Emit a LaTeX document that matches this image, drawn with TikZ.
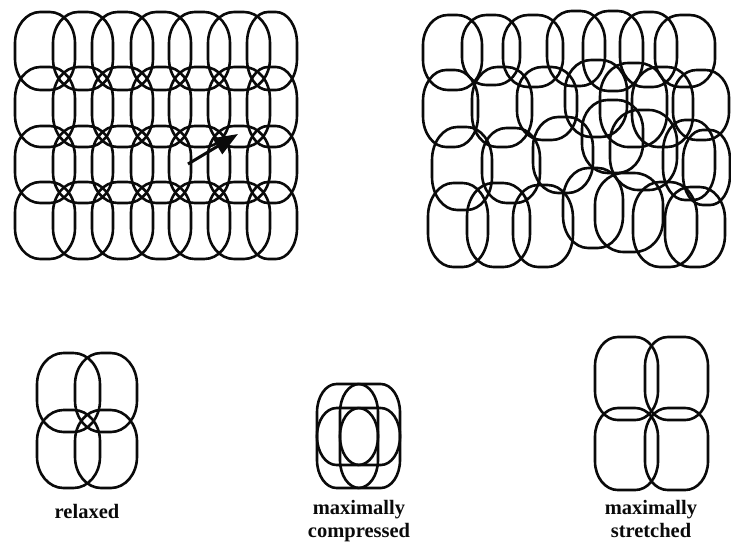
\documentclass[tikz,border=0pt]{standalone}
\usepackage{tikz}
\usepackage{fontspec}
\setmainfont{Liberation Serif}
\usetikzlibrary{calc,arrows.meta,positioning}
\definecolor{inkBlack}{RGB}{10,10,10}

% corner size as a fraction of the cell width / height
\def\cfx{0.42}
\def\cfy{0.40}
% one cell: left, top, width, height (pixel units, y downwards)
\newcommand{\cellat}[4]{%
  \pgfmathsetmacro{\crx}{\cfx*#3}%
  \pgfmathsetmacro{\cry}{\cfy*#4}%
  \draw[cellline] ({#1+\crx},{#2}) -- ({#1+#3-\crx},{#2})
    arc[start angle=-90,end angle=0,x radius=\crx,y radius=\cry]
    -- ({#1+#3},{#2+#4-\cry})
    arc[start angle=0,end angle=90,x radius=\crx,y radius=\cry]
    -- ({#1+\crx},{#2+#4})
    arc[start angle=90,end angle=180,x radius=\crx,y radius=\cry]
    -- ({#1},{#2+\cry})
    arc[start angle=180,end angle=270,x radius=\crx,y radius=\cry]
    -- cycle;}

\begin{document}
\begin{tikzpicture}[x=1pt,y=-1pt,
  cellline/.style={draw=inkBlack,line width=2.6pt,line join=round},
  lbl/.style={font=\bfseries\fontsize{20.5}{23}\selectfont,text=inkBlack,inner sep=0pt,anchor=base}]
\useasboundingbox (0,0) rectangle (731,544);

% regular lattice (top left)
\foreach \ty/\th in {12/78,67/80,126/77,182/77}
  \foreach \lx/\w in {15/60,53/60,92/61,131/60,169/61,208/62,247/50}
    {\cellat{\lx}{\ty}{\w}{\th}}
\coordinate (arrtail) at (188,164);
\coordinate (arrtip) at (238,134);
\draw[line width=3pt,draw=inkBlack,-{Triangle[length=24pt,width=18pt]}] (arrtail) -- (arrtip);

% disordered packing (top right)
\foreach \lx/\ty/\w/\th in {
  423/15/59/75, 462/15/58/70, 503/15/60/72, 547/11/58/75,
  583/11/60/80, 620/12/57/75, 655/15/60/72,
  423/70/55/77, 472/67/60/80, 517/67/60/73, 565/60/62/77,
  600/63/67/84, 632/67/61/80, 673/70/56/70,
  432/127/60/83, 482/128/58/75, 533/117/60/76, 582/100/61/73,
  610/110/67/80, 663/120/52/80, 683/130/47/75,
  428/183/60/84, 467/183/63/84, 513/185/60/82, 563/168/60/80,
  595/173/68/79, 633/182/64/85, 665/187/60/80}
  {\cellat{\lx}{\ty}{\w}{\th}}

% relaxed unit
\foreach \lx/\ty/\w/\th in {37/353/63/79, 75/353/62/79, 37/410/63/78, 75/410/62/78}
  {\cellat{\lx}{\ty}{\w}{\th}}
\node[lbl] (relaxlbl) at (87,518) {relaxed};

% maximally compressed unit
\def\cfx{0.32}
\def\cfy{0.35}
\foreach \lx/\ty/\w/\th in {317/384/61/81, 340/384/60/81, 317/408/61/80, 340/408/60/80}
  {\cellat{\lx}{\ty}{\w}{\th}}
\node[lbl] (cmplbl) at (359,514) {maximally};
\node[lbl] (cmplbltwo) at ([yshift=-23pt]cmplbl.base) {compressed};

% maximally stretched unit
\def\cfx{0.36}
\def\cfy{0.35}
\foreach \lx/\ty/\w/\th in {595/337/63/83, 645/337/63/83, 595/408/63/82, 645/408/63/82}
  {\cellat{\lx}{\ty}{\w}{\th}}
\node[lbl] (strlbl) at (651,514) {maximally};
\node[lbl] (strlbltwo) at ([yshift=-23pt]strlbl.base) {stretched};
\end{tikzpicture}
\end{document}
